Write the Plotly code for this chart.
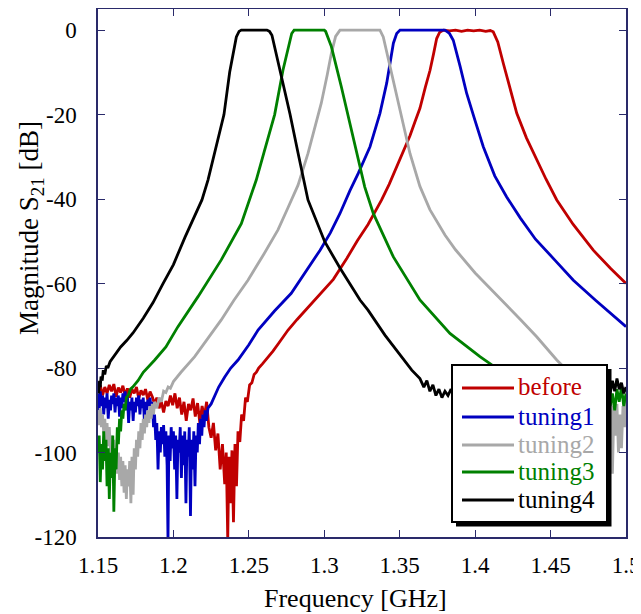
import plotly.graph_objects as go

# ---------------- data ----------------
f_before = [
    1.1500, 1.1515, 1.1530, 1.1545, 1.1560, 1.1575, 1.1590, 1.1605,
    1.1620, 1.1635, 1.1650, 1.1665, 1.1680, 1.1695, 1.1710, 1.1725,
    1.1740, 1.1755, 1.1770, 1.1785, 1.1800, 1.1815, 1.1830, 1.1845,
    1.1860, 1.1875, 1.1890, 1.1905, 1.1920, 1.1935, 1.1950, 1.1965,
    1.1980, 1.1995, 1.2010, 1.2025, 1.2040, 1.2055, 1.2070, 1.2085,
    1.2100, 1.2115, 1.2130, 1.2145, 1.2160, 1.2175, 1.2190, 1.2205,
    1.2220, 1.2235, 1.2250, 1.2265, 1.2280, 1.2295, 1.2310, 1.2325,
    1.2340, 1.2350, 1.2360, 1.2368, 1.2378, 1.2388, 1.2398, 1.2408,
    1.2418, 1.2428, 1.2440, 1.2452, 1.2465, 1.2478, 1.2490, 1.2505,
    1.2520, 1.2535, 1.2550, 1.2565, 1.2590, 1.2627, 1.2660, 1.2700,
    1.2760, 1.2820, 1.2870, 1.2950, 1.3060, 1.3150, 1.3220, 1.3290,
    1.3340, 1.3380, 1.3430, 1.3480, 1.3530, 1.3568, 1.3600, 1.3634,
    1.3670, 1.3701, 1.3725, 1.3745, 1.3765, 1.3790, 1.3830, 1.3870,
    1.3910, 1.3950, 1.3990, 1.4030, 1.4070, 1.4100, 1.4120, 1.4150,
    1.4187, 1.4230, 1.4276, 1.4340, 1.4400, 1.4470, 1.4541, 1.4650,
    1.4783, 1.4900, 1.5000,
]
s21_before = [
    -85.5, -84.0, -86.5, -84.5, -86.0, -84.0, -85.5, -83.8,
    -86.8, -84.6, -85.8, -84.2, -86.5, -84.8, -87.0, -85.0,
    -86.0, -84.5, -87.2, -85.3, -86.4, -85.0, -87.5, -85.6,
    -86.8, -88.5, -87.0, -89.5, -88.0, -90.5, -87.8, -89.0,
    -86.5, -88.8, -86.0, -89.5, -87.0, -91.0, -88.0, -92.5,
    -88.5, -90.0, -87.2, -91.5, -88.3, -93.0, -89.0, -91.5,
    -88.0, -94.0, -96.5, -93.0, -99.5, -95.5, -104.0, -98.0,
    -107.5, -100.0, -120.5, -101.0, -112.0, -99.5, -116.5, -98.0,
    -108.0, -95.0, -97.5, -91.0, -92.5, -87.0, -88.0, -84.0,
    -83.5, -81.5, -81.0, -80.0, -79.0, -77.5, -76.0, -74.0,
    -71.0, -68.5, -66.5, -63.5, -59.0, -54.0, -49.8, -46.0,
    -42.8, -40.2, -36.5, -32.4, -28.5, -25.0, -21.8, -18.5,
    -13.5, -9.5, -5.5, -2.0, -0.5, 0.0, -0.2, 0.0,
    -0.3, 0.0, -0.2, 0.0, -0.3, -0.1, -0.4, -2.8,
    -7.9, -13.5, -19.7, -25.5, -30.0, -35.3, -40.2, -46.0,
    -52.1, -56.5, -60.0,
]

f_tuning1 = [
    1.1500, 1.1508, 1.1515, 1.1523, 1.1530, 1.1538, 1.1545, 1.1553,
    1.1560, 1.1568, 1.1575, 1.1583, 1.1590, 1.1598, 1.1605, 1.1613,
    1.1620, 1.1628, 1.1635, 1.1643, 1.1650, 1.1658, 1.1665, 1.1673,
    1.1680, 1.1688, 1.1695, 1.1703, 1.1710, 1.1718, 1.1725, 1.1733,
    1.1740, 1.1748, 1.1755, 1.1763, 1.1770, 1.1778, 1.1785, 1.1793,
    1.1800, 1.1808, 1.1815, 1.1823, 1.1830, 1.1838, 1.1845, 1.1853,
    1.1860, 1.1868, 1.1875, 1.1883, 1.1890, 1.1898, 1.1905, 1.1913,
    1.1920, 1.1928, 1.1935, 1.1943, 1.1950, 1.1958, 1.1964, 1.1970,
    1.1978, 1.1985, 1.1993, 1.2000, 1.2008, 1.2015, 1.2023, 1.2030,
    1.2038, 1.2045, 1.2053, 1.2060, 1.2068, 1.2075, 1.2083, 1.2090,
    1.2098, 1.2105, 1.2113, 1.2120, 1.2128, 1.2135, 1.2143, 1.2150,
    1.2158, 1.2165, 1.2173, 1.2180, 1.2188, 1.2195, 1.2203, 1.2210,
    1.2218, 1.2229, 1.2250, 1.2273, 1.2300, 1.2340, 1.2380, 1.2428,
    1.2500, 1.2561, 1.2670, 1.2781, 1.2880, 1.2972, 1.3040, 1.3104,
    1.3170, 1.3225, 1.3303, 1.3369, 1.3414, 1.3440, 1.3458, 1.3480,
    1.3502, 1.3600, 1.3700, 1.3800, 1.3830, 1.3855, 1.3900, 1.3944,
    1.4000, 1.4054, 1.4130, 1.4209, 1.4300, 1.4400, 1.4530, 1.4651,
    1.4800, 1.5000,
]
s21_tuning1 = [
    -86.0, -90.0, -85.5, -89.0, -86.5, -91.0, -87.0, -89.5,
    -86.0, -92.0, -87.5, -90.0, -86.5, -88.5, -86.0, -90.5,
    -87.0, -89.0, -86.5, -91.5, -87.0, -89.5, -86.0, -88.0,
    -85.5, -90.0, -86.5, -93.0, -88.0, -90.0, -87.0, -92.5,
    -88.0, -90.5, -87.0, -89.0, -86.5, -91.0, -87.5, -89.5,
    -87.0, -93.0, -88.0, -90.0, -87.5, -89.0, -87.0, -90.5,
    -88.0, -94.0, -91.0, -97.0, -93.0, -104.0, -95.0, -100.0,
    -94.0, -98.0, -93.5, -101.0, -95.0, -103.0, -121.0, -96.0,
    -102.0, -94.0, -99.0, -95.0, -104.0, -96.0, -111.0, -97.0,
    -100.0, -94.0, -106.0, -96.0, -103.0, -95.0, -112.0, -97.0,
    -101.0, -94.0, -115.0, -97.0, -104.0, -95.0, -108.0, -96.0,
    -100.0, -93.0, -98.0, -92.0, -96.0, -91.0, -94.0, -90.0,
    -92.5, -89.5, -88.5, -86.5, -84.5, -82.1, -80.0, -78.1,
    -74.5, -71.0, -66.5, -62.3, -57.0, -52.1, -48.0, -43.4,
    -38.0, -33.9, -27.6, -19.7, -12.5, -7.0, -3.1, -0.8,
    0.0, 0.0, 0.0, 0.0, -0.8, -2.4, -8.5, -15.0,
    -21.5, -27.6, -34.5, -39.5, -44.5, -49.5, -54.5, -59.2,
    -64.0, -70.2,
]

f_tuning2 = [
    1.1500, 1.1508, 1.1515, 1.1523, 1.1530, 1.1538, 1.1545, 1.1553,
    1.1560, 1.1568, 1.1575, 1.1583, 1.1590, 1.1598, 1.1605, 1.1613,
    1.1620, 1.1628, 1.1635, 1.1643, 1.1650, 1.1658, 1.1665, 1.1673,
    1.1680, 1.1688, 1.1695, 1.1703, 1.1710, 1.1718, 1.1725, 1.1733,
    1.1740, 1.1748, 1.1755, 1.1763, 1.1770, 1.1778, 1.1785, 1.1793,
    1.1800, 1.1808, 1.1815, 1.1823, 1.1830, 1.1838, 1.1845, 1.1853,
    1.1860, 1.1868, 1.1875, 1.1890, 1.1905, 1.1920, 1.1935, 1.1950,
    1.1965, 1.1980, 1.2000, 1.2050, 1.2141, 1.2230, 1.2317, 1.2400,
    1.2494, 1.2600, 1.2693, 1.2760, 1.2826, 1.2892, 1.2940, 1.2980,
    1.3020, 1.3047, 1.3075, 1.3104, 1.3200, 1.3300, 1.3369, 1.3391,
    1.3436, 1.3502, 1.3568, 1.3634, 1.3700, 1.3800, 1.3870, 1.4000,
    1.4165, 1.4300, 1.4408, 1.4541, 1.4650, 1.4750, 1.4850, 1.4880,
    1.4890, 1.4900, 1.4910, 1.4920, 1.4930, 1.4940, 1.4950, 1.4960,
    1.4970, 1.4980, 1.4990, 1.5000,
]
s21_tuning2 = [
    -90.0, -93.5, -89.5, -94.0, -91.0, -95.5, -92.0, -97.0,
    -93.0, -98.5, -94.0, -100.0, -96.0, -102.0, -97.0, -103.5,
    -99.0, -105.0, -100.0, -106.5, -101.0, -108.0, -102.0, -109.5,
    -103.0, -111.0, -104.0, -108.0, -102.0, -112.0, -101.0, -110.0,
    -99.0, -104.0, -97.0, -101.0, -95.0, -99.0, -93.0, -97.0,
    -92.0, -95.5, -91.0, -94.0, -90.0, -93.0, -89.0, -92.0,
    -88.5, -91.0, -88.0, -89.5, -87.0, -88.0, -85.5, -85.8,
    -84.5, -84.8, -83.2, -81.0, -77.3, -73.0, -68.6, -64.0,
    -59.2, -53.0, -47.3, -42.0, -36.7, -29.2, -23.0, -17.3,
    -10.5, -5.5, -1.5, 0.0, 0.0, 0.0, 0.0, -1.6,
    -8.7, -18.9, -29.2, -37.0, -42.5, -48.5, -52.0, -57.5,
    -63.5, -68.5, -72.6, -78.1, -82.0, -85.0, -87.0, -88.0,
    -92.0, -87.5, -105.0, -89.0, -96.0, -88.5, -100.0, -91.0,
    -99.0, -89.0, -94.0, -88.0,
]

f_tuning3 = [
    1.1500, 1.1508, 1.1515, 1.1523, 1.1530, 1.1538, 1.1545, 1.1553,
    1.1560, 1.1568, 1.1575, 1.1583, 1.1590, 1.1598, 1.1605, 1.1613,
    1.1620, 1.1628, 1.1635, 1.1643, 1.1650, 1.1658, 1.1665, 1.1673,
    1.1680, 1.1688, 1.1700, 1.1715, 1.1730, 1.1765, 1.1800, 1.1876,
    1.1950, 1.2030, 1.2163, 1.2317, 1.2450, 1.2549, 1.2600, 1.2671,
    1.2726, 1.2760, 1.2784, 1.2800, 1.2900, 1.3000, 1.3009, 1.3047,
    1.3113, 1.3179, 1.3268, 1.3325, 1.3458, 1.3634, 1.3833, 1.4032,
    1.4200, 1.4400, 1.4600, 1.4800, 1.4880, 1.4895, 1.4910, 1.4925,
    1.4940, 1.4955, 1.4970, 1.4985, 1.5000,
]
s21_tuning3 = [
    -100.0, -96.0, -107.0, -98.0, -104.0, -95.0, -102.0, -97.0,
    -108.0, -99.0, -111.0, -100.0, -106.0, -96.0, -114.0, -99.0,
    -104.0, -94.0, -98.0, -92.0, -95.0, -90.0, -92.0, -88.5,
    -90.0, -87.0, -86.5, -85.0, -84.5, -83.0, -81.0, -78.1,
    -75.0, -70.2, -63.1, -54.4, -45.8, -35.5, -29.0, -20.0,
    -9.5, -4.0, -0.8, 0.0, 0.0, 0.0, -0.3, -3.9,
    -13.4, -23.7, -37.1, -43.4, -53.7, -63.9, -71.8, -77.3,
    -81.5, -84.5, -86.0, -87.0, -85.0, -89.0, -86.0, -90.0,
    -85.0, -88.0, -84.5, -89.0, -86.0,
]

f_tuning4 = [
    1.1500, 1.1505, 1.1510, 1.1515, 1.1520, 1.1528, 1.1535, 1.1545,
    1.1555, 1.1565, 1.1580, 1.1600, 1.1625, 1.1650, 1.1690, 1.1732,
    1.1800, 1.1865, 1.1931, 1.2000, 1.2077, 1.2189, 1.2229, 1.2280,
    1.2335, 1.2373, 1.2400, 1.2417, 1.2435, 1.2450, 1.2620, 1.2637,
    1.2653, 1.2680, 1.2720, 1.2773, 1.2826, 1.2862, 1.2892, 1.3003,
    1.3104, 1.3237, 1.3290, 1.3402, 1.3515, 1.3580, 1.3634, 1.3660,
    1.3680, 1.3700, 1.3720, 1.3740, 1.3760, 1.3780, 1.3800, 1.3820,
    1.3840, 1.3860, 1.4000, 1.4200, 1.4400, 1.4600, 1.4800, 1.4880,
    1.4895, 1.4910, 1.4925, 1.4940, 1.4955, 1.4970, 1.4985, 1.5000,
]
s21_tuning4 = [
    -84.5, -86.0, -83.0, -84.5, -82.0, -83.0, -80.5, -81.5,
    -79.5, -80.0, -78.5, -77.5, -76.5, -75.0, -73.5, -71.7,
    -68.2, -64.5, -60.0, -55.5, -49.0, -40.2, -35.5, -28.0,
    -20.0, -9.9, -4.5, -1.6, -0.3, 0.0, 0.0, -0.3,
    -1.2, -5.4, -11.8, -19.9, -29.1, -35.5, -40.2, -50.1,
    -56.3, -63.9, -66.3, -72.2, -77.4, -80.5, -82.5, -84.5,
    -83.0, -85.5, -84.0, -86.5, -85.0, -87.0, -85.5, -86.5,
    -85.0, -86.8, -86.0, -86.0, -86.0, -85.5, -85.0, -84.0,
    -86.0, -83.0, -85.5, -82.5, -85.0, -83.5, -86.0, -84.5,
]

series_names = ["before", "tuning1", "tuning2", "tuning3", "tuning4"]
series_colors = ["#C00000", "#0000C0", "#A8A8A8", "#008000", "#000000"]
series_x = [f_before, f_tuning1, f_tuning2, f_tuning3, f_tuning4]
series_y = [s21_before, s21_tuning1, s21_tuning2, s21_tuning3, s21_tuning4]

x_ticks = [1.15, 1.2, 1.25, 1.3, 1.35, 1.4, 1.45, 1.5]
x_tick_text = ["1.15", "1.2", "1.25", "1.3", "1.35", "1.4", "1.45", "1.5"]
y_ticks = [-120, -100, -80, -60, -40, -20, 0]
y_tick_text = ["-120", "-100", "-80", "-60", "-40", "-20", "0"]
x_title = "Frequency [GHz]"
y_title = "Magnitude S<sub>21</sub> [dB]"

# ---------------- figure ----------------
FONT = "Liberation Serif, Times New Roman, Times, serif"
AXC = "#2a2a6a"

# The page body has an 8 px margin, so the figure starts at (8, 8) in the window;
# size it so that it ends exactly at the window edge.
OFF = 8
W, H = 641 - OFF, 614 - OFF
L, T = 98 - OFF, 9 - OFF
R = W - (626 - OFF)
B = H - (537 - OFF)
pw, ph = W - L - R, H - T - B


def px_x(p):
    """window pixel x -> paper fraction"""
    return (p - OFF - L) / pw


def px_y(p):
    """window pixel y -> paper fraction"""
    return (H - B - (p - OFF)) / ph


fig = go.Figure()
for name, xs, ys, col in zip(series_names, series_x, series_y, series_colors):
    fig.add_trace(go.Scatter(
        x=xs, y=ys, mode="lines", name=name,
        line=dict(color=col, width=2.8),
        showlegend=False,
    ))

# ---- legend box (shadow, frame, sample lines, coloured labels)
shapes = [
    dict(type="rect", xref="paper", yref="paper",
         x0=px_x(456), x1=px_x(611.5), y0=px_y(526.5), y1=px_y(369),
         fillcolor="black", line=dict(width=0), layer="above"),
    dict(type="rect", xref="paper", yref="paper",
         x0=px_x(452), x1=px_x(607), y0=px_y(522), y1=px_y(365),
         fillcolor="white", line=dict(color="black", width=2), layer="above"),
]
annotations = []
row_y = [388, 417, 445, 472, 500]
for name, col, yy in zip(series_names, series_colors, row_y):
    shapes.append(dict(type="line", xref="paper", yref="paper",
                       x0=px_x(462), x1=px_x(514), y0=px_y(yy), y1=px_y(yy),
                       line=dict(color=col, width=3), layer="above"))
    annotations.append(dict(xref="paper", yref="paper", x=px_x(516), y=px_y(yy - 1),
                            xanchor="left", yanchor="middle", showarrow=False,
                            text=name, font=dict(family=FONT, size=25, color=col)))

# axis titles
annotations.append(dict(xref="paper", yref="paper", x=px_x(355), y=px_y(598),
                        xanchor="center", yanchor="middle", showarrow=False,
                        text=x_title, font=dict(family=FONT, size=26, color="black")))
annotations.append(dict(xref="paper", yref="paper", x=px_x(31), y=px_y(228),
                        xanchor="center", yanchor="middle", showarrow=False,
                        textangle=-90,
                        text=y_title, font=dict(family=FONT, size=27, color="black")))

fig.update_layout(
    width=W, height=H,
    margin=dict(l=L, r=R, t=T, b=B, autoexpand=False),
    paper_bgcolor="white", plot_bgcolor="white",
    font=dict(family=FONT, size=24, color="black"),
    showlegend=False,
    shapes=shapes,
    annotations=annotations,
    xaxis=dict(
        range=[1.15, 1.5], tickmode="array", tickvals=x_ticks, ticktext=x_tick_text,
        ticks="inside", ticklen=7, tickwidth=1, tickcolor=AXC,
        showline=True, linecolor=AXC, linewidth=1.5, mirror="allticks",
        showgrid=False, zeroline=False, automargin=False,
        tickfont=dict(family=FONT, size=23, color="black"),
        ticklabelstandoff=7, ticklabeloverflow="allow",
    ),
    yaxis=dict(
        range=[-120, 5], tickmode="array", tickvals=y_ticks, ticktext=y_tick_text,
        ticks="inside", ticklen=7, tickwidth=1, tickcolor=AXC,
        showline=True, linecolor=AXC, linewidth=1.5, mirror="allticks",
        showgrid=False, zeroline=False, automargin=False,
        tickfont=dict(family=FONT, size=23, color="black"),
        ticklabelstandoff=15, ticklabeloverflow="allow",
    ),
)

fig.write_html("out.html")
